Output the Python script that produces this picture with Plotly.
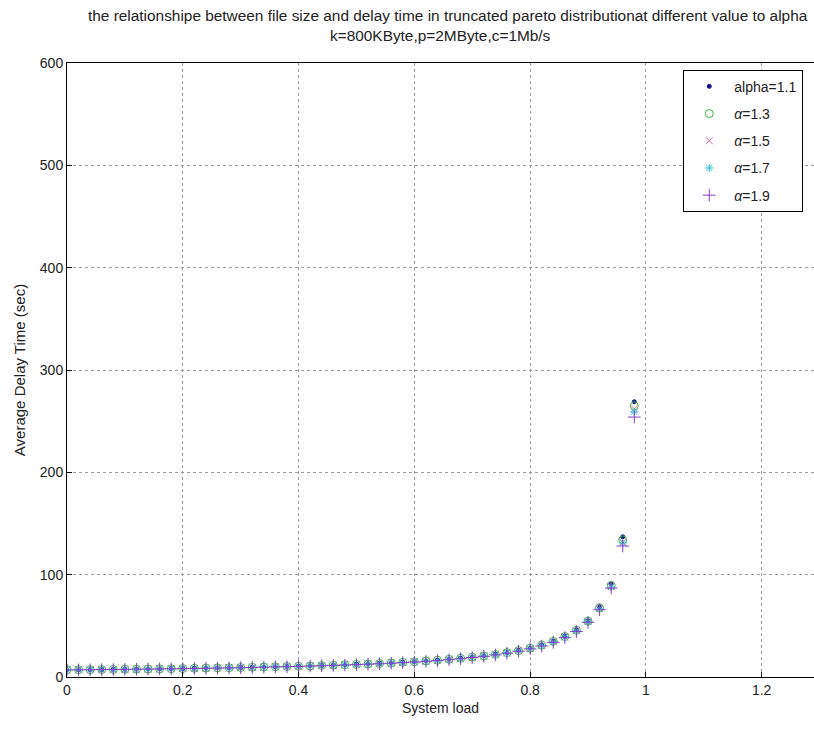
import plotly.graph_objects as go

load = [0.00, 0.02, 0.04, 0.06, 0.08, 0.10, 0.12, 0.14, 0.16, 0.18,
        0.20, 0.22, 0.24, 0.26, 0.28, 0.30, 0.32, 0.34, 0.36, 0.38,
        0.40, 0.42, 0.44, 0.46, 0.48, 0.50, 0.52, 0.54, 0.56, 0.58,
        0.60, 0.62, 0.64, 0.66, 0.68, 0.70, 0.72, 0.74, 0.76, 0.78,
        0.80, 0.82, 0.84, 0.86, 0.88, 0.90, 0.92, 0.94, 0.96, 0.98]

delay_a11 = [7.0, 7.1, 7.2, 7.3, 7.5, 7.6, 7.7, 7.9, 8.0, 8.2,
             8.3, 8.5, 8.7, 8.9, 9.1, 9.3, 9.5, 9.8, 10.0, 10.3,
             10.6, 10.9, 11.2, 11.6, 11.9, 12.4, 12.8, 13.3, 13.8, 14.4,
             15.0, 15.7, 16.5, 17.4, 18.4, 19.5, 20.8, 22.2, 24.0, 26.0,
             28.4, 31.4, 35.1, 39.9, 46.2, 55.1, 68.5, 90.8, 137.0, 269.0]
delay_a13 = [7.0, 7.1, 7.2, 7.3, 7.4, 7.6, 7.7, 7.8, 8.0, 8.1,
             8.3, 8.5, 8.7, 8.9, 9.1, 9.3, 9.5, 9.7, 10.0, 10.3,
             10.5, 10.8, 11.2, 11.5, 11.9, 12.3, 12.7, 13.2, 13.7, 14.3,
             14.9, 15.6, 16.4, 17.3, 18.3, 19.4, 20.6, 22.0, 23.8, 25.8,
             28.2, 31.1, 34.8, 39.5, 45.7, 54.6, 67.6, 89.5, 134.0, 265.0]
delay_a15 = [7.0, 7.1, 7.2, 7.3, 7.4, 7.5, 7.7, 7.8, 7.9, 8.1,
             8.3, 8.4, 8.6, 8.8, 9.0, 9.2, 9.5, 9.7, 10.0, 10.2,
             10.5, 10.8, 11.1, 11.5, 11.8, 12.2, 12.7, 13.1, 13.6, 14.2,
             14.8, 15.5, 16.3, 17.2, 18.1, 19.2, 20.5, 21.9, 23.6, 25.6,
             28.0, 30.9, 34.5, 39.2, 45.3, 54.2, 67.0, 88.6, 132.0, 262.0]
delay_a17 = [6.9, 7.0, 7.1, 7.3, 7.4, 7.5, 7.6, 7.8, 7.9, 8.1,
             8.2, 8.4, 8.6, 8.8, 9.0, 9.2, 9.4, 9.7, 9.9, 10.2,
             10.5, 10.8, 11.1, 11.4, 11.8, 12.2, 12.6, 13.1, 13.6, 14.1,
             14.7, 15.4, 16.2, 17.1, 18.0, 19.1, 20.4, 21.8, 23.5, 25.4,
             27.8, 30.7, 34.3, 38.9, 45.0, 53.9, 66.5, 88.0, 131.0, 259.0]
delay_a19 = [6.9, 7.0, 7.1, 7.2, 7.3, 7.5, 7.6, 7.7, 7.9, 8.0,
             8.2, 8.4, 8.5, 8.7, 8.9, 9.1, 9.4, 9.6, 9.9, 10.1,
             10.4, 10.7, 11.0, 11.4, 11.7, 12.1, 12.5, 13.0, 13.5, 14.0,
             14.6, 15.3, 16.0, 16.9, 17.9, 19.0, 20.2, 21.6, 23.2, 25.2,
             27.5, 30.3, 33.9, 38.4, 44.4, 53.4, 65.8, 86.9, 128.0, 254.0]

series_names = ["alpha=1.1", "<i>α</i>=1.3", "<i>α</i>=1.5", "<i>α</i>=1.7", "<i>α</i>=1.9"]
series_values = [delay_a11, delay_a13, delay_a15, delay_a17, delay_a19]
symbols = ["circle", "circle-open", "x-thin-open", "asterisk-open", "cross-thin-open"]
colors = ["#14148a", "#3cb43c", "#e070b0", "#30c0d0", "#8a3cc8"]
sizes = [4, 8, 7, 7, 9]

title_line1 = "the relationshipe between file size and delay time in truncated pareto distributionat different value to alpha"
title_line2 = "k=800KByte,p=2MByte,c=1Mb/s"

fig = go.Figure()
for name, vals, sym, col, sz in zip(series_names, series_values, symbols, colors, sizes):
    fig.add_trace(go.Scatter(
        x=load, y=vals, mode="markers", name=name, legendgroup=name,
        marker=dict(symbol=sym, color=col, size=sz,
                    line=dict(color=col, width=1)),
    ))

axis_common = dict(
    showline=True, linecolor="black", linewidth=1, mirror=True,
    ticks="inside", ticklen=5, tickcolor="black",
    showgrid=True, gridcolor="#9a9a9a", griddash="dot", gridwidth=1,
    zeroline=False,
    tickfont=dict(family="Liberation Sans, Arial", size=14, color="#222"),
)

title_font = dict(family="Liberation Sans, Arial", size=15.4, color="#222")
fig.add_annotation(text=title_line1, xref="paper", yref="paper", x=0.510, y=1.078,
                   xanchor="center", yanchor="middle", showarrow=False, font=title_font)
fig.add_annotation(text=title_line2, xref="paper", yref="paper", x=0.500, y=1.0456,
                   xanchor="center", yanchor="middle", showarrow=False, font=title_font)

fig.update_layout(
    width=814, height=739,
    margin=dict(l=67, r=0, t=63, b=62),
    paper_bgcolor="white", plot_bgcolor="white",
    font=dict(family="Liberation Sans, Arial", color="#222"),
    xaxis=dict(axis_common, range=[0, 1.2904], tickvals=[0, 0.2, 0.4, 0.6, 0.8, 1, 1.2],
               ticktext=["0", "0.2", "0.4", "0.6", "0.8", "1", "1.2"],
               title=dict(text="System load", font=dict(size=14), standoff=6)),
    yaxis=dict(axis_common, range=[0, 600], tickvals=[0, 100, 200, 300, 400, 500, 600],
               title=dict(text="Average Delay Time (sec)", font=dict(size=15), standoff=10)),
    legend=dict(
        x=0.825, y=0.989, xanchor="left", yanchor="top",
        bgcolor="white", bordercolor="black", borderwidth=1,
        font=dict(family="Liberation Sans, Arial", size=14, color="#222"),
        tracegroupgap=6, itemwidth=40,
    ),
    showlegend=True,
)

fig.write_html("out.html")
